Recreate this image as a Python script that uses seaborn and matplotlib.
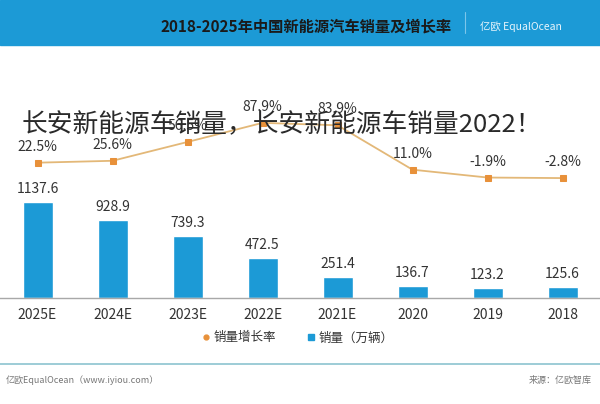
import matplotlib.pyplot as plt
import numpy as np
import pandas as pd
import seaborn as sns
from matplotlib.lines import Line2D
from matplotlib.patches import Rectangle

# data (order as shown left to right)
years = ["2025E", "2024E", "2023E", "2022E", "2021E", "2020", "2019", "2018"]
sales = [1137.6, 928.9, 739.3, 472.5, 251.4, 136.7, 123.2, 125.6]
growth = [22.5, 25.6, 56.5, 87.9, 83.9, 11.0, -1.9, -2.8]

title = "2018-2025年中国新能源汽车销量及增长率"
overlay = "长安新能源车销量，长安新能源车销量2022！"
sales_label = "销量（万辆）"
growth_label = "销量增长率"
footer_left = "亿欧EqualOcean（www.iyiou.com）"
footer_right = "来源：亿欧智库"

BLUE = "#1c9ad6"
LINE = "#e3b878"
ORANGE = "#e8913a"
TEXT = "#333333"

W, H = 600, 404

sns.set_theme(style="white")
plt.rcParams["font.family"] = ["Noto Sans CJK SC", "DejaVu Sans"]

df = pd.DataFrame({"year": years, "sales": sales, "growth": growth})

fig = plt.figure(figsize=(W / 100, H / 100), dpi=100)
ax = fig.add_axes([0, (H - 298) / H, 1, 238 / H])

sns.barplot(data=df, x="year", y="sales", color=BLUE, width=0.4,
            saturation=1, ax=ax)
ax.set_xlim(-0.5, len(years) - 0.5)
ax.set_ylim(0, 238 / 0.0844)
ax.set_xlabel("")
ax.set_ylabel("")
ax.set_yticks([])
ax.tick_params(axis="x", length=0, pad=7, labelsize=10, labelcolor=TEXT)
for side in ["left", "right", "top"]:
    ax.spines[side].set_visible(False)
ax.spines["bottom"].set_color("#a8a8a8")
ax.spines["bottom"].set_linewidth(1)

for i, v in enumerate(sales):
    ax.annotate(f"{v:.1f}", (i, v), xytext=(0, 13), textcoords="offset pixels",
                ha="center", va="center", fontsize=10, color=TEXT)

# growth rate on a hidden secondary axis
ax2 = ax.twinx()
pos = np.arange(len(years))
sns.lineplot(x=pos, y=growth, ax=ax2, color=LINE, linewidth=1.3,
             marker="s", markersize=5, markerfacecolor=ORANGE,
             markeredgecolor=ORANGE)
ax2.set_ylim(-199.7, 191.1)
ax2.set_yticks([])
ax2.set_ylabel("")
for side in ["left", "right", "top", "bottom"]:
    ax2.spines[side].set_visible(False)

for i, g in enumerate(growth):
    ax2.annotate(f"{g:.1f}%", (i, g), xytext=(0, 16), textcoords="offset pixels",
                 ha="center", va="center", fontsize=10, color=TEXT)

# header banner
fig.patches.append(Rectangle((0, 1 - 45 / H), 1, 45 / H, transform=fig.transFigure,
                             color=BLUE, zorder=0))
fig.text(452 / W, 1 - 27 / H, title, ha="right", va="center", fontsize=11,
         fontweight="bold", color="#1a1a1a")
fig.add_artist(Line2D([465 / W, 465 / W], [1 - 12 / H, 1 - 33 / H],
                      transform=fig.transFigure, color="#7cc6ea", linewidth=0.8))
fig.text(480 / W, 1 - 27 / H, "亿欧 EqualOcean", ha="left", va="center",
         fontsize=7.5, color="#e8f5fc")

# legend
handles = [
    Line2D([], [], marker="o", linestyle="", markersize=3.5, color=ORANGE),
    Line2D([], [], marker="s", linestyle="", markersize=5, color=BLUE),
]
fig.legend(handles, [growth_label, sales_label], loc="center",
           bbox_to_anchor=(298 / W, 1 - 338 / H), ncol=2, frameon=False,
           fontsize=9, handlelength=0.6, handletextpad=0.3, columnspacing=2.5,
           labelcolor=TEXT)

# footer
fig.add_artist(Line2D([0, 1], [1 - 364 / H, 1 - 364 / H], transform=fig.transFigure,
                      color="#8cc3cf", linewidth=1.2))
fig.text(6 / W, 1 - 380 / H, footer_left, ha="left", va="center",
         fontsize=6.5, color="#777777")
fig.text(592 / W, 1 - 380 / H, footer_right, ha="right", va="center",
         fontsize=6.5, color="#777777")

# overlaid headline
fig.text(22 / W, 1 - 125 / H, overlay, ha="left", va="center", fontsize=18.5,
         fontweight="light", color="#2a2a2a")

fig.savefig("out.png", dpi=100)
